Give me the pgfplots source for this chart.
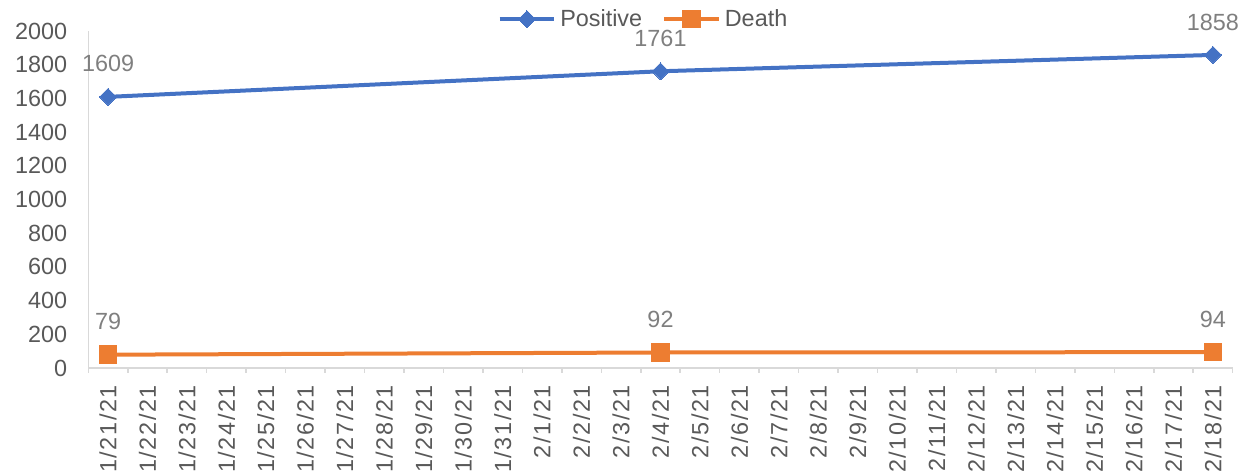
\documentclass[border=0pt]{standalone}
\usepackage{pgfplots}
\pgfplotsset{compat=1.18}
\usepackage{fontspec}
\setmainfont{Liberation Sans}
\definecolor{cblue}{HTML}{4472C4}
\definecolor{corange}{HTML}{ED7D31}
\definecolor{axgray}{HTML}{D9D9D9}
\definecolor{lblgray}{HTML}{595959}
\definecolor{dlgray}{HTML}{7F7F7F}
\begin{document}
\begin{tikzpicture}
\begin{axis}[
  scale only axis,
  width=572.2pt, height=168.5pt,
  xmin=-0.5, xmax=28.5, ymin=0, ymax=2000,
  ytick={0,200,...,2000},
  xtick={0,...,28},
  xticklabels={1/21/21,1/22/21,1/23/21,1/24/21,1/25/21,1/26/21,1/27/21,1/28/21,1/29/21,1/30/21,1/31/21,2/1/21,2/2/21,2/3/21,2/4/21,2/5/21,2/6/21,2/7/21,2/8/21,2/9/21,2/10/21,2/11/21,2/12/21,2/13/21,2/14/21,2/15/21,2/16/21,2/17/21,2/18/21},
  minor xtick={-0.5,0.5,...,28.5},
  major tick length=0pt,
  minor tick length=2.5pt,
  tick align=outside,
  axis x line*=bottom, axis y line*=left,
  axis line style={-, draw=axgray, line width=0.75pt},
  tick style={draw=axgray, line width=0.75pt},
  minor tick style={draw=axgray, line width=0.75pt},
  yticklabel style={font=\fontsize{11.7}{13}\selectfont, text=lblgray, xshift=-7pt},
  xticklabel style={font=\fontsize{11.7}{13}\selectfont\addfontfeature{LetterSpace=7}, text=lblgray, rotate=90, anchor=east},
  xticklabel shift=5pt,
  scaled y ticks=false,
  /pgf/number format/assume math mode=true,
  /pgf/number format/1000 sep={},
  clip=false,
  nodes near coords,
  every node near coord/.append style={font=\fontsize{11.7}{13}\selectfont, text=dlgray, anchor=south, yshift=9pt, /pgf/number format/1000 sep={}},
  legend columns=2,
  legend style={draw=none, fill=none, at={(0.486,1.035)}, anchor=center,
    font=\fontsize{11.7}{13}\selectfont, text=lblgray,
    /tikz/every even column/.append style={column sep=8pt}},
  legend image code/.code={\draw[mark repeat=2,mark phase=2] plot coordinates {(0cm,0cm) (0.48cm,0cm) (0.96cm,0cm)};},
]
\addplot[color=cblue, line width=2pt, mark=square*, mark size=3pt, mark options={rotate=45, fill=cblue, line width=0pt}]
  coordinates {(0,1609) (14,1761) (28,1858)};
\addlegendentry{Positive}
\addplot[color=corange, line width=2pt, mark=square*, mark size=4.4pt, mark options={fill=corange, line width=0pt}]
  coordinates {(0,79) (14,92) (28,94)};
\addlegendentry{Death}
\end{axis}
\pgfresetboundingbox
\useasboundingbox (-44.15pt,-54pt) rectangle (576.85pt,184pt);
\end{tikzpicture}
\end{document}
